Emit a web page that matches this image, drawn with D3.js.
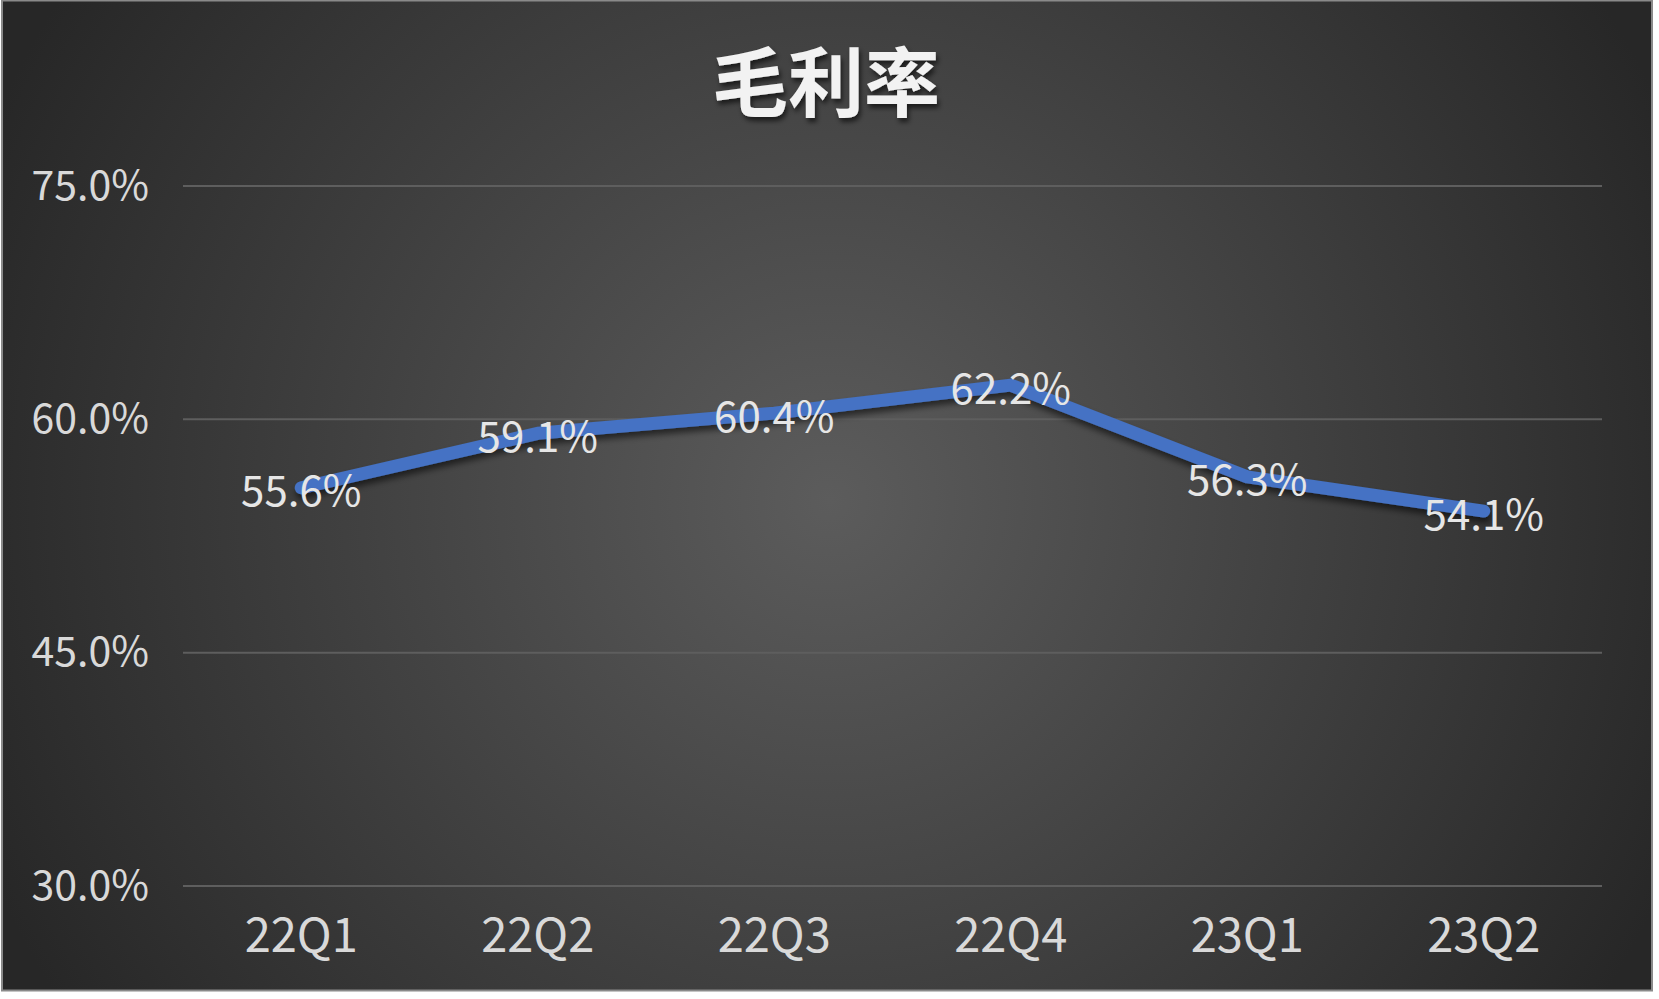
<!DOCTYPE html>
<html><head><meta charset="utf-8">
<script src="https://cdn.jsdelivr.net/npm/d3@7"></script>
<style>html,body{margin:0;padding:0;background:#fff;}svg{display:block;}</style>
</head><body>
<script>
const categories = ["22Q1","22Q2","22Q3","22Q4","23Q1","23Q2"];
const values = [55.6, 59.1, 60.4, 62.2, 56.3, 54.1];
const yTicks = [30, 45, 60, 75];
const title = "毛利率";

(function(){
const W = 1659, H = 999;
const svg = d3.select("body").append("svg").attr("width", W).attr("height", H);
const defs = svg.append("defs");
const rg = defs.append("radialGradient").attr("id","bg").attr("gradientUnits","userSpaceOnUse")
  .attr("cx",830).attr("cy",500).attr("r",920);
rg.append("stop").attr("offset","0%").attr("stop-color","#5c5c5c");
rg.append("stop").attr("offset","100%").attr("stop-color","#272727");
const sh = defs.append("filter").attr("id","sh").attr("x","-10%").attr("y","-20%").attr("width","130%").attr("height","160%");
sh.append("feDropShadow").attr("dx",1).attr("dy",5).attr("stdDeviation",3).attr("flood-color","#000").attr("flood-opacity",0.55);
const tsh = defs.append("filter").attr("id","tsh").attr("x","-10%").attr("y","-20%").attr("width","130%").attr("height","160%");
tsh.append("feDropShadow").attr("dx",2).attr("dy",4).attr("stdDeviation",2.5).attr("flood-color","#000").attr("flood-opacity",0.6);

svg.append("rect").attr("x",2).attr("y",0.5).attr("width",1650).attr("height",990)
  .attr("fill","url(#bg)").attr("stroke","#8a8a8a").attr("stroke-width",2);

const pL = 183, pR = 1602, pT = 186, pB = 886;
const x = d3.scaleBand().domain(categories).range([pL, pR]);
const y = d3.scaleLinear().domain([30, 75]).range([pB, pT]);

const font = "'Noto Sans CJK SC','Noto Sans',sans-serif";

svg.append("g").selectAll("line").data(yTicks).join("line")
  .attr("x1", pL).attr("x2", pR)
  .attr("y1", d => y(d)).attr("y2", d => y(d))
  .attr("stroke", "#5e5e5e").attr("stroke-width", 2);

const yAxis = d3.axisLeft(y).tickValues(yTicks).tickFormat(d => d.toFixed(1) + "%").tickSize(0).tickPadding(34);
const ya = svg.append("g").attr("transform", `translate(${pL},0)`).call(yAxis);
ya.select(".domain").remove();
ya.selectAll("text").attr("fill","#d9d9d9").style("font-family",font).style("font-size","41px");

const xAxis = d3.axisBottom(x).tickSize(0).tickPadding(33);
const xa = svg.append("g").attr("transform", `translate(0,${pB})`).call(xAxis);
xa.select(".domain").remove();
xa.selectAll("text").attr("fill","#d9d9d9").style("font-family",font).style("font-size","47px");

const line = d3.line().x((d,i) => x(categories[i]) + x.bandwidth()/2).y(d => y(d));
svg.append("path").datum(values).attr("d", line).attr("fill","none")
  .attr("stroke","#4472c4").attr("stroke-width",13).attr("stroke-linejoin","round").attr("stroke-linecap","round")
  .attr("filter","url(#sh)");

svg.append("g").selectAll("text").data(values).join("text")
  .attr("x", (d,i) => x(categories[i]) + x.bandwidth()/2)
  .attr("y", d => y(d))
  .attr("text-anchor","middle").attr("dominant-baseline","central")
  .attr("fill","#e6e6e6").style("font-family",font).style("font-size","42px")
  .text(d => d.toFixed(1) + "%");

svg.append("text").attr("x", 826).attr("y", 78).attr("text-anchor","middle").attr("dominant-baseline","central")
  .attr("fill","#f2f2f2").style("font-family",font).style("font-size","76px").style("font-weight","bold")
  .attr("filter","url(#tsh)").text(title);
})();
</script>
</body></html>
